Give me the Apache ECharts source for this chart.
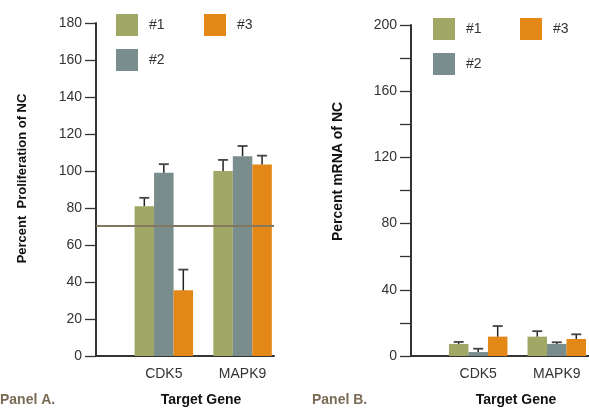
<!DOCTYPE html>
<html>
<head>
<meta charset="utf-8">
<script src="https://cdn.jsdelivr.net/npm/echarts@6/dist/echarts.min.js"></script>
<style>
html,body{margin:0;padding:0;background:#fff;}
#chart{width:589px;height:408px;}
</style>
</head>
<body>
<div id="chart"></div>
<script>
// ---- data ----
var categories = ['CDK5', 'MAPK9'];
var seriesNames = ['#1', '#2', '#3'];
// Panel A: Percent Proliferation of NC
var panelA_values = [[81, 99, 35.5], [100, 108, 103.5]]; // [category][series]
var panelA_errors = [[4.5, 4.7, 11.2], [6, 5.5, 4.8]];
var panelA_refLine = 70.5;
var panelA_ticks = [0, 20, 40, 60, 80, 100, 120, 140, 160, 180];
// Panel B: Percent mRNA of NC
var panelB_values = [[7.3, 2.4, 11.7], [11.7, 7.3, 10.3]];
var panelB_errors = [[1.2, 2.0, 6.4], [3.3, 1.0, 2.8]];
var panelB_ticks = [0, 40, 80, 120, 160, 200];

var colors = ['#A1A865', '#798D8D', '#E38817'];
var FONT = '"Liberation Sans", Arial, sans-serif';

var chart = echarts.init(document.getElementById('chart'), null, {renderer: 'canvas'});

var BARW = 19.5;

function xAxisFor(gridIndex, min, max) {
  return {
    type: 'value', gridIndex: gridIndex, min: min, max: max,
    splitLine: {show: false},
    axisLine: {show: true, onZero: false, lineStyle: {color: '#333', width: 2}},
    axisTick: {show: false},
    axisLabel: {
      show: true, customValues: [1, 2], margin: 11,
      fontFamily: FONT, fontSize: 14, color: '#333',
      formatter: function (v) { return categories[Math.round(v) - 1] || ''; }
    }
  };
}
function yAxisFor(gridIndex, max, labels) {
  return {
    type: 'value', gridIndex: gridIndex, min: 0, max: max, interval: 20,
    splitLine: {show: false},
    axisLine: {show: true, lineStyle: {color: '#333', width: 2}},
    axisTick: {show: true, length: 11, lineStyle: {color: '#333', width: 1.3}},
    axisLabel: {
      margin: 14, fontFamily: FONT, fontSize: 14, color: '#333',
      formatter: function (v) { return labels.indexOf(v) >= 0 ? String(v) : ''; }
    }
  };
}

var series = [];
function addPanel(p, values, errors, refLine) {
  for (var s = 0; s < 3; s++) {
    var d = [];
    for (var c = 0; c < categories.length; c++) d.push([c + 1, values[c][s]]);
    var ser = {
      type: 'bar', name: seriesNames[s], xAxisIndex: p, yAxisIndex: p,
      data: d, barWidth: BARW, barGap: '0%',
      itemStyle: {color: colors[s]}, silent: true, z: 2
    };
    if (s === 0 && refLine != null) {
      ser.markLine = {
        silent: true, symbol: 'none', label: {show: false},
        lineStyle: {color: '#85775F', width: 2, type: 'solid'},
        data: [{yAxis: refLine}], z: 5
      };
    }
    series.push(ser);
  }
  // error bars
  var ed = [];
  for (var c2 = 0; c2 < categories.length; c2++) {
    for (var s2 = 0; s2 < 3; s2++) {
      ed.push([c2 + 1, values[c2][s2], values[c2][s2] + errors[c2][s2], s2]);
    }
  }
  series.push({
    type: 'custom', xAxisIndex: p, yAxisIndex: p, silent: true, z: 4,
    data: ed,
    renderItem: function (params, api) {
      var x = api.value(0), lo = api.value(1), hi = api.value(2), s = api.value(3);
      var pLo = api.coord([x, lo]);
      var pHi = api.coord([x, hi]);
      var off = (s - 1) * BARW;
      var cx = pLo[0] + off;
      return {
        type: 'group',
        children: [
          {type: 'line', shape: {x1: cx, y1: pLo[1], x2: cx, y2: pHi[1]},
           style: {stroke: '#222', lineWidth: 1.5}},
          {type: 'line', shape: {x1: cx - 5, y1: pHi[1], x2: cx + 5, y2: pHi[1]},
           style: {stroke: '#444', lineWidth: 1.8}}
        ]
      };
    },
    encode: {x: 0, y: [1, 2]}
  });
}
addPanel(0, panelA_values, panelA_errors, panelA_refLine);
addPanel(1, panelB_values, panelB_errors, null);

function legendsFor(left1, left2, top) {
  var common = {
    orient: 'vertical', top: top, itemWidth: 22, itemHeight: 22, itemGap: 13,
    icon: 'rect', selectedMode: false, padding: 0,
    textStyle: {fontFamily: FONT, fontSize: 14, color: '#333', padding: [0, 0, 0, 6]}
  };
  return [
    Object.assign({}, common, {left: left1, data: ['#1', '#2']}),
    Object.assign({}, common, {left: left2, data: ['#3']})
  ];
}

var option = {
  animation: false,
  backgroundColor: '#fff',
  grid: [
    {left: 96, top: 23, width: 178, height: 333, containLabel: false},
    {left: 411, top: 25, width: 180, height: 331, containLabel: false}
  ],
  xAxis: [xAxisFor(0, 0.139, 2.399), xAxisFor(1, 0.145, 2.41)],
  yAxis: [yAxisFor(0, 180, panelA_ticks), yAxisFor(1, 200, panelB_ticks)],
  legend: legendsFor(116, 204, 14).concat(legendsFor(433, 520, 18)),
  series: series,
  graphic: [
    {type: 'text', x: 22, y: 178.5, rotation: Math.PI / 2,
     style: {text: 'Percent  Proliferation of NC', fontFamily: FONT, fontWeight: 'bold', fontSize: 13,
             fill: '#111', textAlign: 'center', textVerticalAlign: 'middle'}},
    {type: 'text', x: 338, y: 171.5, rotation: Math.PI / 2,
     style: {text: 'Percent mRNA of NC', fontFamily: FONT, fontWeight: 'bold', fontSize: 14,
             fill: '#111', textAlign: 'center', textVerticalAlign: 'middle'}},
    {type: 'text', x: 0, y: 400,
     style: {text: 'Panel A.', fontFamily: FONT, fontWeight: 'bold', fontSize: 14,
             fill: '#7A6A55', textAlign: 'left', textVerticalAlign: 'middle'}},
    {type: 'text', x: 201, y: 400,
     style: {text: 'Target Gene', fontFamily: FONT, fontWeight: 'bold', fontSize: 14,
             fill: '#111', textAlign: 'center', textVerticalAlign: 'middle'}},
    {type: 'text', x: 312, y: 400,
     style: {text: 'Panel B.', fontFamily: FONT, fontWeight: 'bold', fontSize: 14,
             fill: '#7A6A55', textAlign: 'left', textVerticalAlign: 'middle'}},
    {type: 'text', x: 516, y: 400,
     style: {text: 'Target Gene', fontFamily: FONT, fontWeight: 'bold', fontSize: 14,
             fill: '#111', textAlign: 'center', textVerticalAlign: 'middle'}}
  ]
};
chart.setOption(option);
</script>
</body>
</html>
